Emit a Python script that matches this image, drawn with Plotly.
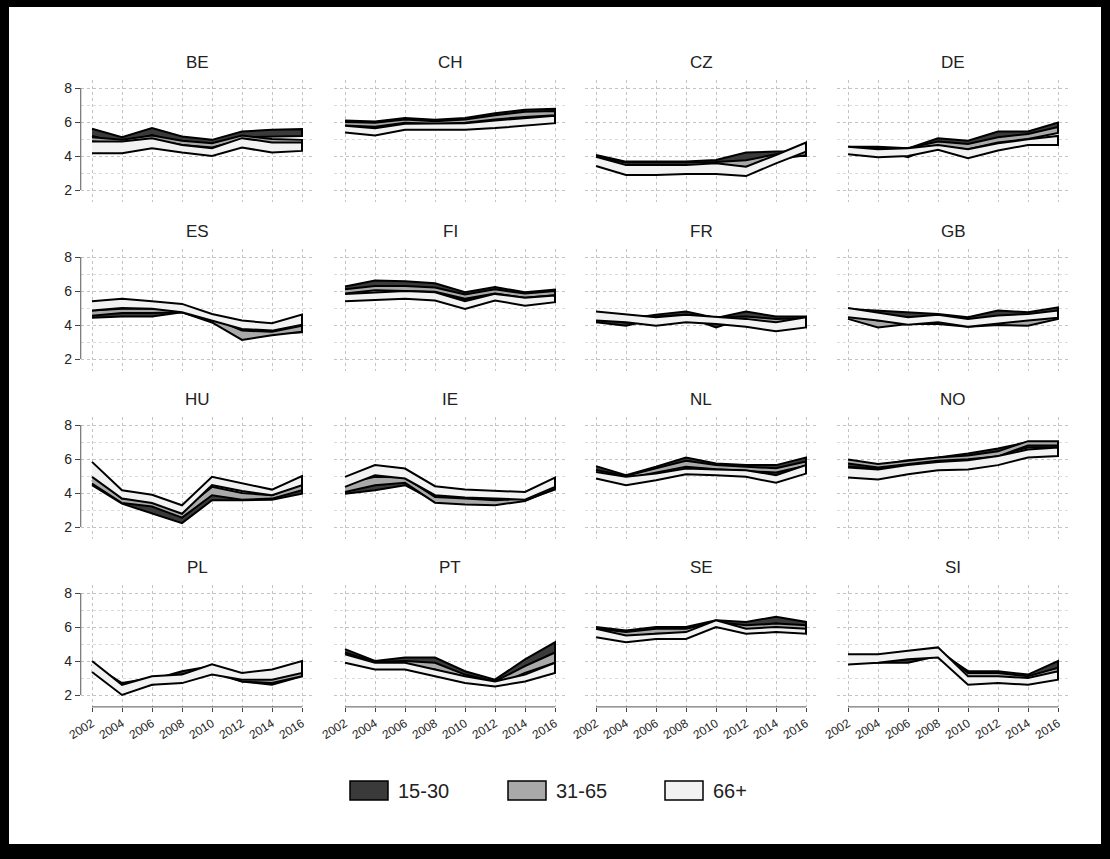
import plotly.graph_objects as go

YEARS = [2002, 2004, 2006, 2008, 2010, 2012, 2014, 2016]
COUNTRIES = ["BE", "CH", "CZ", "DE", "ES", "FI", "FR", "GB",
             "HU", "IE", "NL", "NO", "PL", "PT", "SE", "SI"]
GROUPS = ["15-30", "31-65", "66+"]
Y_TICKS = [2, 4, 6, 8]

# ---- band data (lower / upper) per country and age group ----
BE_1530_lo = [5.18, 4.75, 5.24, 4.75, 4.55, 5.10, 5.15, 5.18]
BE_1530_hi = [5.60, 5.10, 5.64, 5.15, 4.95, 5.44, 5.54, 5.58]
BE_3165_lo = [4.85, 4.70, 4.95, 4.65, 4.50, 4.95, 4.75, 4.70]
BE_3165_hi = [5.10, 4.95, 5.20, 4.90, 4.75, 5.20, 5.00, 4.95]
BE_66_lo = [4.16, 4.16, 4.45, 4.20, 4.00, 4.50, 4.20, 4.30]
BE_66_hi = [4.85, 4.85, 5.05, 4.65, 4.46, 5.05, 4.80, 4.80]

CH_1530_lo = [5.83, 5.70, 5.97, 5.90, 5.97, 6.23, 6.37, 6.43]
CH_1530_hi = [6.09, 6.03, 6.23, 6.13, 6.23, 6.52, 6.72, 6.78]
CH_3165_lo = [5.80, 5.72, 5.95, 5.88, 5.95, 6.15, 6.30, 6.40]
CH_3165_hi = [6.00, 5.95, 6.15, 6.05, 6.15, 6.40, 6.60, 6.65]
CH_66_lo = [5.38, 5.20, 5.54, 5.54, 5.54, 5.64, 5.78, 5.93]
CH_66_hi = [5.78, 5.64, 5.90, 5.90, 5.93, 6.09, 6.23, 6.37]

CZ_1530_lo = [3.77, 3.47, 3.47, 3.47, 3.57, 3.57, 4.00, 4.00]
CZ_1530_hi = [4.06, 3.67, 3.67, 3.67, 3.77, 4.20, 4.26, 4.26]
CZ_3165_lo = [3.60, 3.40, 3.40, 3.40, 3.45, 3.35, 3.80, 4.05]
CZ_3165_hi = [3.95, 3.60, 3.60, 3.60, 3.65, 3.75, 4.10, 4.30]
CZ_66_lo = [3.41, 2.88, 2.88, 2.94, 2.94, 2.82, 3.57, 4.26]
CZ_66_hi = [3.96, 3.47, 3.47, 3.47, 3.57, 3.37, 4.06, 4.79]

DE_1530_lo = [4.40, 4.36, 3.93, 4.65, 4.55, 4.98, 5.10, 5.54]
DE_1530_hi = [4.55, 4.55, 4.45, 5.04, 4.90, 5.44, 5.44, 5.97]
DE_3165_lo = [4.30, 4.20, 4.20, 4.55, 4.40, 4.80, 5.00, 5.35]
DE_3165_hi = [4.50, 4.45, 4.45, 4.85, 4.70, 5.10, 5.30, 5.70]
DE_66_lo = [4.10, 3.93, 4.00, 4.36, 3.87, 4.32, 4.65, 4.65]
DE_66_hi = [4.55, 4.40, 4.45, 4.65, 4.40, 4.75, 4.98, 5.18]

ES_1530_lo = [4.42, 4.50, 4.50, 4.75, 4.20, 3.28, 3.51, 3.57]
ES_1530_hi = [4.85, 4.95, 4.90, 4.85, 4.36, 3.57, 3.67, 3.96]
ES_3165_lo = [4.55, 4.70, 4.70, 4.75, 4.15, 3.12, 3.40, 3.60]
ES_3165_hi = [4.85, 4.95, 4.95, 4.90, 4.40, 3.67, 3.60, 3.96]
ES_66_lo = [4.85, 5.00, 4.95, 4.75, 4.26, 3.77, 3.67, 4.02]
ES_66_hi = [5.40, 5.54, 5.40, 5.24, 4.65, 4.26, 4.10, 4.61]

FI_1530_lo = [5.93, 6.27, 6.23, 6.07, 5.48, 5.93, 5.60, 5.74]
FI_1530_hi = [6.27, 6.62, 6.58, 6.46, 5.93, 6.23, 5.93, 6.09]
FI_3165_lo = [5.85, 6.05, 6.00, 5.95, 5.55, 5.85, 5.60, 5.75]
FI_3165_hi = [6.10, 6.30, 6.30, 6.20, 5.80, 6.10, 5.85, 6.00]
FI_66_lo = [5.40, 5.48, 5.54, 5.44, 4.95, 5.44, 5.14, 5.34]
FI_66_hi = [5.83, 5.93, 6.00, 5.93, 5.40, 5.83, 5.60, 5.74]

FR_1530_lo = [4.16, 3.96, 4.36, 4.50, 3.86, 4.42, 4.22, 4.26]
FR_1530_hi = [4.65, 4.36, 4.61, 4.79, 4.42, 4.79, 4.50, 4.50]
FR_3165_lo = [4.35, 4.15, 4.20, 4.35, 4.15, 4.20, 4.00, 4.10]
FR_3165_hi = [4.70, 4.50, 4.50, 4.60, 4.45, 4.50, 4.35, 4.40]
FR_66_lo = [4.26, 4.16, 3.96, 4.16, 4.06, 3.90, 3.63, 3.86]
FR_66_hi = [4.79, 4.61, 4.46, 4.61, 4.50, 4.36, 4.16, 4.46]

GB_1530_lo = [4.65, 4.46, 4.46, 4.36, 4.16, 4.46, 4.50, 4.65]
GB_1530_hi = [4.94, 4.85, 4.75, 4.65, 4.46, 4.85, 4.75, 5.04]
GB_3165_lo = [4.36, 3.86, 4.06, 4.06, 3.90, 4.00, 3.96, 4.36]
GB_3165_hi = [4.65, 4.26, 4.36, 4.36, 4.16, 4.26, 4.36, 4.65]
GB_66_lo = [4.46, 4.26, 4.02, 4.16, 3.90, 4.10, 4.26, 4.42]
GB_66_hi = [5.00, 4.75, 4.46, 4.60, 4.36, 4.56, 4.65, 4.85]

HU_1530_lo = [4.46, 3.37, 2.78, 2.23, 3.57, 3.57, 3.61, 3.96]
HU_1530_hi = [4.75, 3.47, 3.47, 2.68, 4.26, 3.87, 3.77, 4.36]
HU_3165_lo = [4.56, 3.41, 3.20, 2.55, 3.87, 3.61, 3.67, 4.16]
HU_3165_hi = [5.05, 3.67, 3.60, 2.95, 4.36, 4.00, 3.87, 4.56]
HU_66_lo = [4.95, 3.67, 3.41, 2.78, 4.46, 4.12, 3.87, 4.46]
HU_66_hi = [5.83, 4.16, 3.90, 3.28, 4.95, 4.56, 4.20, 5.00]

IE_1530_lo = [3.96, 4.16, 4.46, 3.53, 3.41, 3.33, 3.57, 4.20]
IE_1530_hi = [4.36, 4.56, 4.75, 3.87, 3.81, 3.67, 3.77, 4.46]
IE_3165_lo = [4.06, 4.46, 4.60, 3.43, 3.33, 3.28, 3.53, 4.26]
IE_3165_hi = [4.56, 4.95, 4.91, 3.77, 3.67, 3.57, 3.67, 4.56]
IE_66_lo = [4.36, 5.05, 4.85, 3.87, 3.73, 3.67, 3.61, 4.36]
IE_66_hi = [4.95, 5.64, 5.44, 4.40, 4.20, 4.12, 4.06, 4.90]

NL_1530_lo = [5.14, 4.90, 5.24, 5.64, 5.44, 5.38, 5.05, 5.64]
NL_1530_hi = [5.58, 5.05, 5.54, 6.09, 5.74, 5.64, 5.64, 6.09]
NL_3165_lo = [5.10, 4.85, 5.20, 5.55, 5.40, 5.30, 5.20, 5.60]
NL_3165_hi = [5.35, 5.00, 5.45, 5.90, 5.65, 5.55, 5.45, 5.85]
NL_66_lo = [4.85, 4.46, 4.75, 5.10, 5.05, 4.95, 4.60, 5.14]
NL_66_hi = [5.24, 4.95, 5.14, 5.44, 5.38, 5.34, 5.05, 5.64]

NO_1530_lo = [5.54, 5.44, 5.74, 5.89, 6.03, 6.23, 6.68, 6.68]
NO_1530_hi = [5.83, 5.64, 5.93, 6.09, 6.33, 6.62, 7.00, 6.95]
NO_3165_lo = [5.74, 5.50, 5.70, 5.89, 5.98, 6.15, 6.80, 6.80]
NO_3165_hi = [5.97, 5.70, 5.90, 6.09, 6.20, 6.45, 7.05, 7.05]
NO_66_lo = [4.91, 4.79, 5.10, 5.34, 5.38, 5.64, 6.09, 6.17]
NO_66_hi = [5.50, 5.38, 5.64, 5.83, 5.93, 6.17, 6.56, 6.68]

PL_1530_lo = [3.50, 2.30, 2.60, 3.10, 3.40, 2.80, 2.60, 3.10]
PL_1530_hi = [3.80, 2.60, 2.90, 3.40, 3.70, 3.10, 2.90, 3.40]
PL_3165_lo = [3.40, 2.40, 2.70, 2.90, 3.30, 2.80, 2.70, 3.10]
PL_3165_hi = [3.80, 2.70, 3.00, 3.20, 3.60, 3.10, 3.00, 3.40]
PL_66_lo = [3.35, 2.00, 2.60, 2.70, 3.20, 2.90, 2.90, 3.30]
PL_66_hi = [4.00, 2.60, 3.10, 3.20, 3.80, 3.30, 3.50, 4.00]

PT_1530_lo = [4.30, 3.80, 3.80, 3.70, 3.00, 2.60, 3.70, 4.50]
PT_1530_hi = [4.70, 4.00, 4.20, 4.20, 3.40, 2.90, 4.10, 5.10]
PT_3165_lo = [4.10, 3.70, 3.70, 3.50, 2.90, 2.55, 3.30, 3.90]
PT_3165_hi = [4.50, 3.95, 4.00, 3.90, 3.20, 2.80, 3.70, 4.50]
PT_66_lo = [3.90, 3.50, 3.50, 3.10, 2.70, 2.50, 2.80, 3.30]
PT_66_hi = [4.40, 3.90, 3.90, 3.50, 3.10, 2.80, 3.20, 3.90]

SE_1530_lo = [5.70, 5.60, 5.70, 5.70, 6.10, 6.00, 6.20, 6.00]
SE_1530_hi = [6.00, 5.80, 6.00, 6.00, 6.40, 6.30, 6.60, 6.30]
SE_3165_lo = [5.60, 5.40, 5.60, 5.60, 6.00, 5.80, 5.90, 5.80]
SE_3165_hi = [5.90, 5.70, 5.90, 5.90, 6.30, 6.10, 6.20, 6.10]
SE_66_lo = [5.40, 5.10, 5.30, 5.30, 6.00, 5.60, 5.70, 5.60]
SE_66_hi = [5.90, 5.50, 5.60, 5.70, 6.40, 5.90, 6.00, 5.90]

SI_1530_lo = [4.00, 3.90, 3.90, 4.30, 3.00, 3.00, 2.90, 3.50]
SI_1530_hi = [4.30, 4.20, 4.20, 4.60, 3.40, 3.40, 3.20, 4.00]
SI_3165_lo = [4.00, 4.00, 4.10, 4.30, 2.90, 2.90, 2.80, 3.20]
SI_3165_hi = [4.30, 4.30, 4.50, 4.70, 3.30, 3.30, 3.10, 3.60]
SI_66_lo = [3.80, 3.90, 4.10, 4.20, 2.60, 2.70, 2.60, 2.90]
SI_66_hi = [4.40, 4.40, 4.60, 4.80, 3.10, 3.10, 3.00, 3.40]

FILLS = {"15-30": "#3a3a3a", "31-65": "#a9a9a9", "66+": "#f2f2f2"}
SUFFIX = {"15-30": "1530", "31-65": "3165", "66+": "66"}

W, H = 1110, 859
COL_LEFT = [80.75, 333.75, 584.75, 836.75]
PANEL_W = 232.5
ROW_TOP = [79.5, 248.5, 416.5, 584.5]
PANEL_H = 122.4
XR = [2001.25, 2016.75]
YR = [1.3, 8.5]
FONT = "Liberation Sans, Arial"

fig = go.Figure()
g = globals()
layout = {}
annotations = []
shapes = []

for i, c in enumerate(COUNTRIES):
    r, col = divmod(i, 4)
    k = i + 1
    xs = "x" if k == 1 else f"x{k}"
    ys = "y" if k == 1 else f"y{k}"
    for grp in GROUPS:
        lo = g[f"{c}_{SUFFIX[grp]}_lo"]
        hi = g[f"{c}_{SUFFIX[grp]}_hi"]
        fig.add_trace(go.Scatter(
            x=YEARS + YEARS[::-1], y=hi + lo[::-1],
            fill="toself", fillcolor=FILLS[grp],
            line=dict(color="black", width=2),
            mode="lines", name=grp, legendgroup=grp,
            showlegend=False, hoverinfo="skip",
            xaxis=xs, yaxis=ys))
    x0 = COL_LEFT[col] / W
    x1 = (COL_LEFT[col] + PANEL_W) / W
    y1 = 1 - ROW_TOP[r] / H
    y0 = 1 - (ROW_TOP[r] + PANEL_H) / H
    bottom = r == 3
    first = col == 0
    layout[f"xaxis{k}"] = dict(
        domain=[x0, x1], range=XR, anchor=ys, automargin=False,
        tickvals=YEARS, ticktext=[str(v) for v in YEARS],
        showticklabels=bottom, ticks="outside" if bottom else "",
        ticklen=4, tickcolor="#444", tickangle=-32,
        tickfont=dict(size=12, color="#222", family=FONT),
        showgrid=True, gridcolor="#c4c4c4", griddash="dot", gridwidth=1,
        zeroline=False, showline=False)
    layout[f"yaxis{k}"] = dict(
        domain=[y0, y1], range=YR, anchor=xs, automargin=False,
        tickvals=Y_TICKS, showticklabels=first,
        ticks="outside" if first else "", ticklen=5, tickcolor="#444",
        tickfont=dict(size=14, color="#222", family=FONT),
        showgrid=True, gridcolor="#c4c4c4", griddash="dot", gridwidth=1,
        minor=dict(tickvals=[3, 5, 7], showgrid=True, gridcolor="#dcdcdc",
                   griddash="dot", gridwidth=1, ticks=""),
        zeroline=False, showline=False)
    annotations.append(dict(
        text=c, xref=f"{xs} domain", yref=f"{ys} domain", x=0.5, y=1,
        yanchor="middle", yshift=17, showarrow=False,
        font=dict(size=17, color="#222", family=FONT)))
    if first:
        shapes.append(dict(type="line", xref=f"{xs} domain", yref=ys,
                           x0=0, x1=0, y0=2, y1=8,
                           line=dict(color="#555", width=1)))
    if bottom:
        shapes.append(dict(type="line", xref=xs, yref=f"{ys} domain",
                           x0=2002, x1=2016, y0=0, y1=0,
                           line=dict(color="#555", width=1)))

# manual legend
LEG_X = [350, 508, 665]
for grp, lx in zip(GROUPS, LEG_X):
    shapes.append(dict(type="rect", xref="paper", yref="paper",
                       x0=lx / W, x1=(lx + 38) / W,
                       y0=1 - 800 / H, y1=1 - 781 / H,
                       fillcolor=FILLS[grp], line=dict(color="black", width=1.5)))
    annotations.append(dict(text=grp, xref="paper", yref="paper",
                            x=(lx + 46) / W, y=1 - 791 / H,
                            xanchor="left", yanchor="middle", showarrow=False,
                            font=dict(size=20, color="#222", family=FONT)))

# black frame
for (a, b, c_, d) in [(0, 0, W, 7), (0, 0, 9, H), (W - 9, 0, W, H), (0, H - 15, W, H)]:
    shapes.append(dict(type="rect", xref="paper", yref="paper",
                       x0=a / W, x1=c_ / W, y0=1 - d / H, y1=1 - b / H,
                       fillcolor="black", line=dict(width=0), layer="above"))

fig.update_layout(
    width=W, height=H, margin=dict(l=0, r=0, t=0, b=0),
    paper_bgcolor="white", plot_bgcolor="white",
    showlegend=False, annotations=annotations, shapes=shapes, **layout)

fig.write_html("out.html")
